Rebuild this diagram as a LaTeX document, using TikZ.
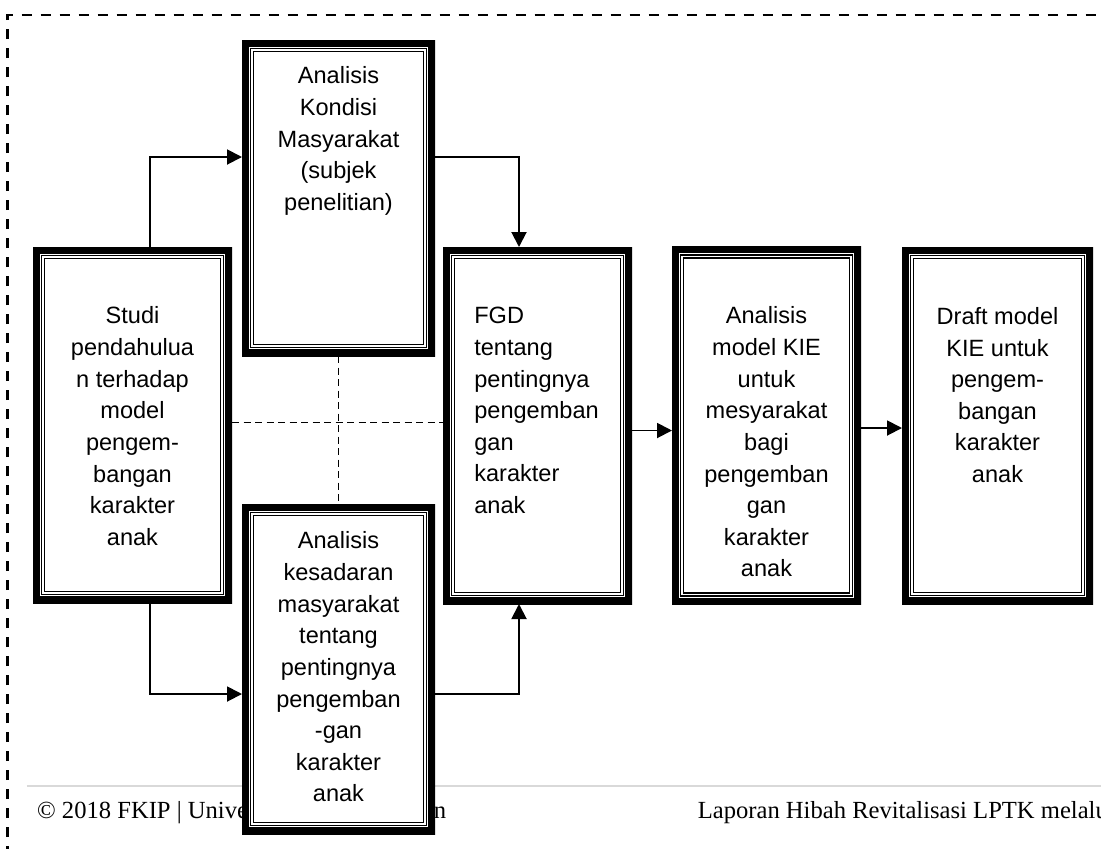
\documentclass[tikz,border=0pt]{standalone}
\usepackage{fontspec}
\setmainfont{Liberation Sans}
\newfontfamily\footfont{Liberation Serif}
\usetikzlibrary{arrows.meta, positioning}

\begin{document}
\begin{tikzpicture}[
    node distance=0.8cm and 0.8cm,
    frame/.style={rectangle, fill=white, inner sep=0pt, outer sep=0pt,
        path picture={
            \draw[line width=7.6pt] (path picture bounding box.south west) rectangle (path picture bounding box.north east);
            \draw[double, line width=0.68pt, double distance=0.97pt] ([shift={(0.2cm,0.2cm)}]path picture bounding box.south west) rectangle ([shift={(-0.2cm,-0.2cm)}]path picture bounding box.north east);
        }},
    boxtext/.style={inner sep=0pt, align=center, font=\fontsize{13.4}{18}\selectfont},
    arrow/.style={-{Triangle[length=0.3cm, width=0.3cm]}, line width=1.1pt},
    dashline/.style={line width=0.75pt, dash pattern=on 0.14cm off 0.09cm},
    footer/.style={inner sep=0pt, anchor=base west, font=\footfont\fontsize{14}{16}\selectfont}
]

\useasboundingbox (0,0) rectangle (22.02,-16.96);
\clip (0,0) rectangle (22.02,-16.96);

% outer dashed border and page footer
\draw[line width=1.4pt, dash pattern=on 0.2cm off 0.18cm] (0.154,-17.5) -- (0.154,-0.3) -- (22.6,-0.3);
\draw[line width=0.9pt, black!15] (0.54,-15.72) -- (22.1,-15.72);
\node[footer] (foot_left) at (0.736,-16.366) {© 2018 FKIP | Unive};
\node[footer] (foot_n) at (8.67,-16.366) {n};
\node[footer] (foot_right) at (13.95,-16.366) {Laporan Hibah Revitalisasi LPTK melalui};

% boxes
\node[frame, minimum width=3.98cm, minimum height=7.12cm, anchor=north west] (studi) at (0.66,-4.94) {};
\node[frame, minimum width=3.86cm, minimum height=6.32cm, anchor=north west] (kondisi) at (4.84,-0.80) {};
\node[frame, minimum width=3.86cm, minimum height=6.6cm, below=2.96cm of kondisi] (kesadaran) {};
\node[frame, minimum width=3.78cm, minimum height=7.14cm, right=4.22cm of studi.north east, anchor=north west] (fgd) {};
\node[frame, minimum width=3.78cm, minimum height=7.16cm, right=0.8cm of fgd] (kie) {};
\node[frame, minimum width=3.82cm, minimum height=7.14cm, right=0.82cm of kie] (draft) {};

% dashed links
\draw[dashline] (kondisi) -- (kesadaran);
\draw[dashline] ([yshift=0.05cm]studi.east) -- ([yshift=0.05cm]studi.east -| fgd.west);

% arrows
\draw[arrow] ([xshift=0.35cm]studi.north) |- ([yshift=0.82cm]kondisi.west);
\draw[arrow] ([yshift=0.82cm]kondisi.east) -| ([xshift=-0.37cm]fgd.north);
\draw[arrow] ([xshift=0.35cm]studi.south) |- ([yshift=-0.5cm]kesadaran.west);
\draw[arrow] ([yshift=-0.5cm]kesadaran.east) -| ([xshift=-0.37cm]fgd.south);
\draw[arrow] ([yshift=-0.1cm]fgd.east) -- ([yshift=-0.1cm]fgd.east -| kie.west);
\draw[arrow] ([yshift=-0.05cm]kie.east) -- ([yshift=-0.05cm]kie.east -| draft.west);

% box texts
\node[boxtext, below=1.19cm of studi.north] (studi_txt) {Studi\\pendahulua\\n terhadap\\model\\pengem-\\bangan\\karakter\\anak};
\node[boxtext, below=0.53cm of kondisi.north] (kondisi_txt) {Analisis\\Kondisi\\Masyarakat\\(subjek\\penelitian)};
\node[boxtext, below=0.55cm of kesadaran.north] (kesadaran_txt) {Analisis\\kesadaran\\masyarakat\\tentang\\pentingnya\\pengemban\\-gan\\karakter\\anak};
\node[boxtext, align=left, anchor=north west] (fgd_txt) at ([shift={(0.62cm,-1.2cm)}]fgd.north west) {FGD\\tentang\\pentingnya\\pengemban\\gan\\karakter\\anak};
\node[boxtext, below=1.2cm of kie.north] (kie_txt) {Analisis\\model KIE\\untuk\\mesyarakat\\bagi\\pengemban\\gan\\karakter\\anak};
\node[boxtext, below=1.2cm of draft.north] (draft_txt) {Draft model\\KIE untuk\\pengem-\\bangan\\karakter\\anak};

\end{tikzpicture}
\end{document}
